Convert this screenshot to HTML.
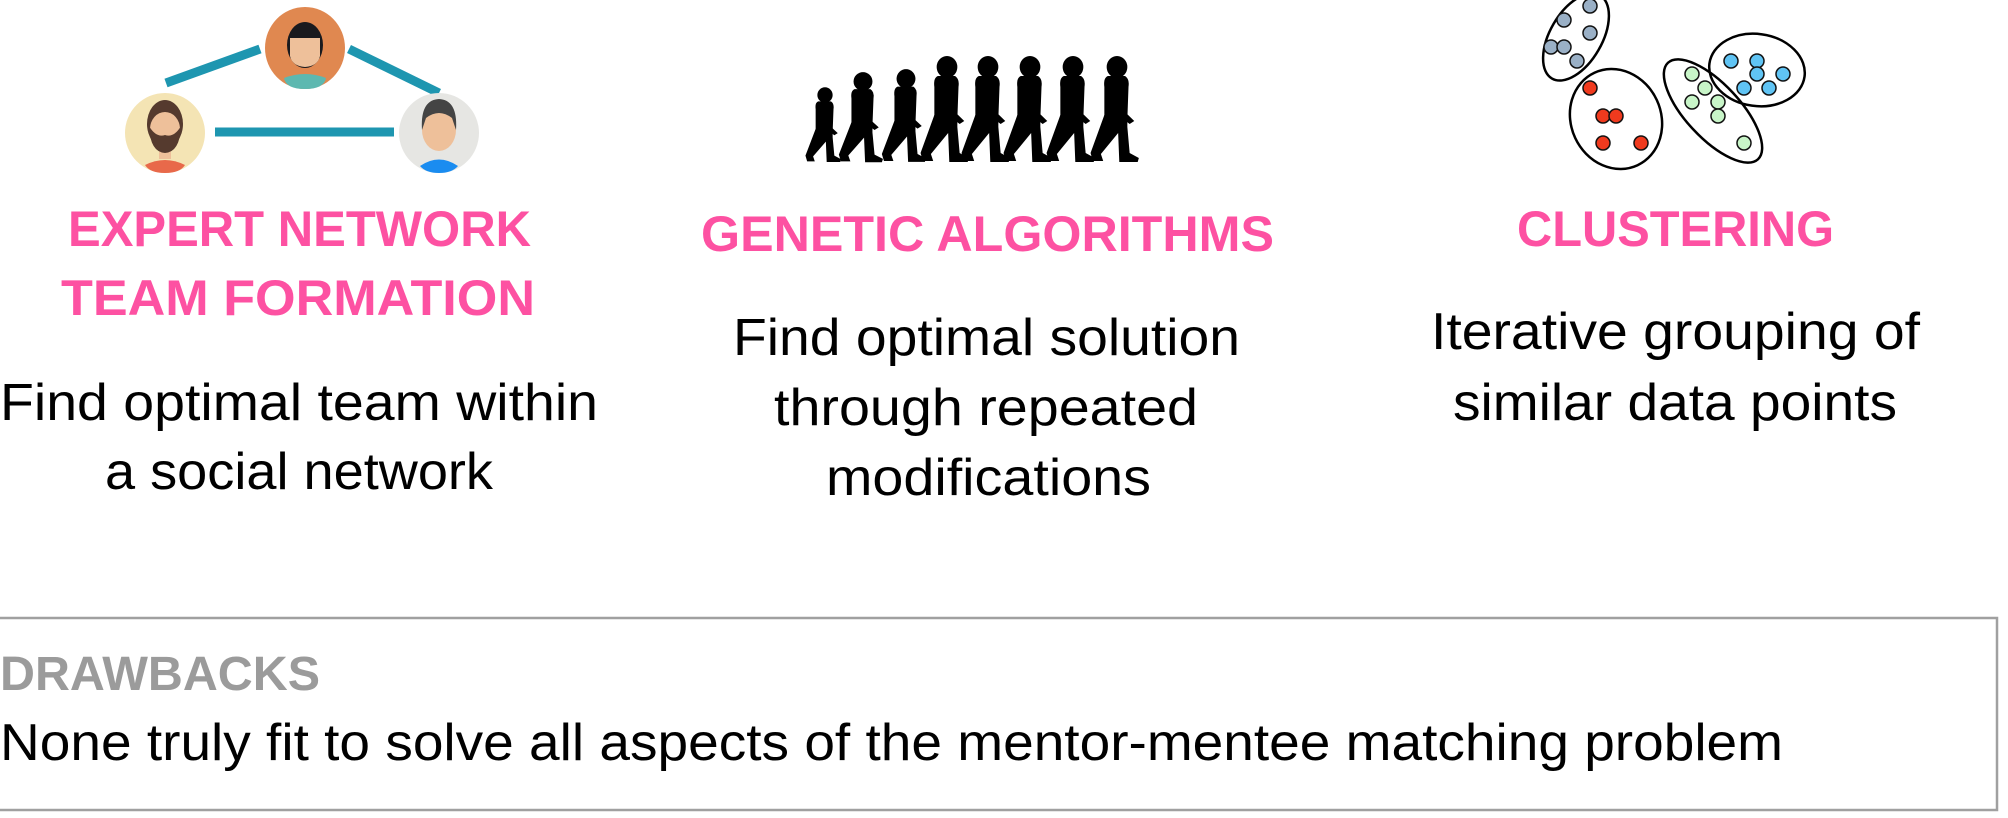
<!DOCTYPE html>
<html><head><meta charset="utf-8"><style>
html,body{margin:0;padding:0;background:#fff;}
svg{display:block;}
.h{font-family:"Liberation Sans",sans-serif;font-weight:bold;font-size:50px;fill:#fd51a2;}
.b{font-family:"Liberation Sans",sans-serif;font-size:52px;fill:#000;}
</style></head><body>
<svg width="2008" height="818" viewBox="0 0 2008 818" xmlns="http://www.w3.org/2000/svg">
<defs>
<g id="fig">
  <ellipse cx="0" cy="10" rx="9" ry="11"/>
  <path d="M-8,19 L7,19 Q11,22 10,30 L9,62 L-11,62 L-11,30 Q-12,21 -8,19Z"/>
  <path d="M2,26 L7,55 L15,64 L11,67 L1,58 L-3,30Z"/>
  <path d="M-11,58 L9,58 L9,70 L11,96 L19,101 L18,105 L2,105 L1,76 L-14,97 L-12,104 L-21,104 L-23,96 Z"/>
</g>
</defs>
<rect width="2008" height="818" fill="#fff"/>

<g stroke="#1e96b0" stroke-width="9">
<line x1="166" y1="83" x2="260" y2="49"/>
<line x1="349" y1="49" x2="439" y2="93"/>
<line x1="215" y1="132" x2="394" y2="132"/>
</g>
<ellipse cx="305" cy="48" rx="40" ry="41" fill="#e08850"/>
<path d="M284,78 Q305,70 326,78 Q324,89 305,89 Q286,89 284,78Z" fill="#5db8b0"/>
<ellipse cx="305" cy="45" rx="18" ry="23" fill="#1a1a1e"/>
<path d="M290,38 L320,38 L320,56 Q318,66 305,67 Q292,66 290,56Z" fill="#eec09a"/>
<ellipse cx="165" cy="133" rx="40" ry="40" fill="#f4e4b4"/>
<path d="M145,165 Q165,155 185,165 Q180,173 165,173 Q150,173 145,165Z" fill="#e8694a"/>
<rect x="159" y="145" width="12" height="14" fill="#eec09a"/>
<ellipse cx="165" cy="124" rx="18" ry="24" fill="#553a2e"/>
<ellipse cx="165" cy="129" rx="15" ry="17" fill="#eec09a"/>
<path d="M149,126 Q150,152 165,153 Q180,152 181,126 Q174,138 165,135 Q156,138 149,126Z" fill="#553a2e"/>
<ellipse cx="439" cy="133" rx="40" ry="40" fill="#e6e6e3"/>
<path d="M420,166 Q439,153 458,166 Q452,173 439,173 Q426,173 420,166Z" fill="#1a8cf0"/>
<ellipse cx="439" cy="130" rx="17" ry="21" fill="#eec09a"/>
<path d="M422,130 Q420,100 439,99 Q458,100 456,130 L452,118 Q439,108 426,118Z" fill="#444"/>

<text class="h" x="68" y="246" textLength="463" lengthAdjust="spacingAndGlyphs">EXPERT NETWORK</text>
<text class="h" x="61" y="315" textLength="474" lengthAdjust="spacingAndGlyphs">TEAM FORMATION</text>
<text class="b" x="0" y="420" textLength="598" lengthAdjust="spacingAndGlyphs">Find optimal team within</text>
<text class="b" x="105" y="489" textLength="388" lengthAdjust="spacingAndGlyphs">a social network</text>

<g fill="#000">
<use href="#fig" transform="translate(825,88) scale(0.85,0.705)"/>
<use href="#fig" transform="translate(863,73) scale(1.05,0.85)"/>
<use href="#fig" transform="translate(906,70) scale(1.05,0.875)"/>
<use href="#fig" transform="translate(947,57) scale(1.15,1)"/>
<use href="#fig" transform="translate(988,57) scale(1.15,1)"/>
<use href="#fig" transform="translate(1030,57) scale(1.15,1)"/>
<use href="#fig" transform="translate(1073,57) scale(1.15,1)"/>
<use href="#fig" transform="translate(1117,57) scale(1.15,1)"/>
</g>

<text class="h" x="701" y="251" textLength="573" lengthAdjust="spacingAndGlyphs">GENETIC ALGORITHMS</text>
<text class="b" x="733" y="355" textLength="507" lengthAdjust="spacingAndGlyphs">Find optimal solution</text>
<text class="b" x="774" y="425" textLength="424" lengthAdjust="spacingAndGlyphs">through repeated</text>
<text class="b" x="826" y="495" textLength="325" lengthAdjust="spacingAndGlyphs">modifications</text>

<g fill="none" stroke="#000" stroke-width="2.5">
<ellipse cx="1576" cy="37" rx="48" ry="26" transform="rotate(-60 1576 37)"/>
<ellipse cx="1616" cy="119" rx="45" ry="51" transform="rotate(-25 1616 119)"/>
<ellipse cx="1713" cy="111" rx="66" ry="27" transform="rotate(47 1713 111)"/>
<ellipse cx="1757" cy="70" rx="48" ry="36" transform="rotate(8 1757 70)"/>
</g>
<g stroke="#111" stroke-width="1.5">
<g fill="#9ab0c6">
<circle cx="1590" cy="6" r="7"/><circle cx="1564" cy="20" r="7"/><circle cx="1590" cy="33" r="7"/>
<circle cx="1551" cy="47" r="7"/><circle cx="1564" cy="47" r="7"/><circle cx="1577" cy="61" r="7"/>
</g>
<g fill="#f03a1e">
<circle cx="1590" cy="88" r="7"/><circle cx="1603" cy="116" r="7"/><circle cx="1616" cy="116" r="7"/>
<circle cx="1603" cy="143" r="7"/><circle cx="1641" cy="143" r="7"/>
</g>
<g fill="#c8f5c8">
<circle cx="1692" cy="74" r="7"/><circle cx="1705" cy="88" r="7"/><circle cx="1692" cy="102" r="7"/>
<circle cx="1718" cy="102" r="7"/><circle cx="1718" cy="116" r="7"/><circle cx="1744" cy="143" r="7"/>
</g>
<g fill="#60c4f4">
<circle cx="1731" cy="61" r="7"/><circle cx="1757" cy="61" r="7"/><circle cx="1757" cy="74" r="7"/>
<circle cx="1783" cy="74" r="7"/><circle cx="1744" cy="88" r="7"/><circle cx="1769" cy="88" r="7"/>
</g>
</g>

<text class="h" x="1517" y="246" textLength="317" lengthAdjust="spacingAndGlyphs">CLUSTERING</text>
<text class="b" x="1431" y="349" textLength="489" lengthAdjust="spacingAndGlyphs">Iterative grouping of</text>
<text class="b" x="1453" y="420" textLength="444" lengthAdjust="spacingAndGlyphs">similar data points</text>

<rect x="-5" y="618" width="2002" height="192" fill="none" stroke="#a0a0a0" stroke-width="2.5"/>
<text class="h" x="0" y="690" textLength="320" lengthAdjust="spacingAndGlyphs" style="fill:#9b9b9b;font-size:48px">DRAWBACKS</text>
<text class="b" x="0" y="760" textLength="1783" lengthAdjust="spacingAndGlyphs">None truly fit to solve all aspects of the mentor-mentee matching problem</text>
</svg>
</body></html>
